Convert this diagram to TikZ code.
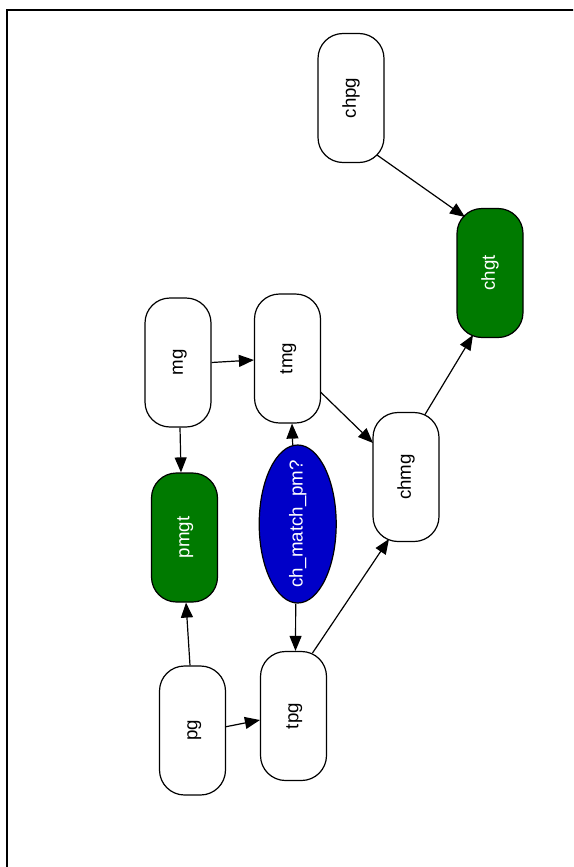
\documentclass[tikz,border=0pt]{standalone}
\usepackage{fontspec}
\setmainfont{Liberation Sans}
\usetikzlibrary{arrows.meta,calc,shapes.geometric}
\definecolor{gvgreen}{RGB}{0,122,0}
\definecolor{gvblue}{RGB}{0,0,200}
\newcommand{\vtxt}[1]{\rotatebox{90}{\vphantom{hg}#1}}
\begin{document}
\begin{tikzpicture}[x=1pt,y=-1pt,
  lbl/.style={font=\fontsize{18.7}{22}\selectfont},
  box/.style={lbl, draw, rounded corners=25pt, minimum width=66pt, minimum height=129pt,
              line width=1.2pt, fill=white, inner sep=0pt},
  gbox/.style={box, fill=gvgreen, text=white},
  decision/.style={lbl, ellipse, draw, fill=gvblue, text=white, minimum width=77pt,
              minimum height=158pt, inner sep=0pt, line width=1.2pt},
  edge/.style={line width=1.2pt, -{Triangle[length=15pt,width=12pt]}},
  frame/.style={line width=2pt}
]
\useasboundingbox (0,0) rectangle (573,867);
\clip (0,0) rectangle (573,867);
\draw[frame] (6.5,900) -- (6.5,10) -- (600,10);

\node[box]  (chpg) at (351,98)    {\vtxt{chpg}};
\node[gbox] (chgt) at (490,273)   {\vtxt{chgt}};
\node[box]  (mg)   at (178,362.5) {\vtxt{mg}};
\node[box]  (tmg)  at (287.5,358.5) {\vtxt{tmg}};
\node[gbox] (pmgt) at (184.5,537.5) {\vtxt{pmgt}};
\node[decision] (cm) at (297.7,524) {\rotatebox{90}{\makebox[0pt]{\vphantom{hg}ch\_match\_pm?}}};
\node[box]  (pg)   at (192.5,730.5) {\vtxt{pg}};
\node[box]  (tpg)  at (293.5,716) {\vtxt{tpg}};
\node[box]  (chmg) at (406,477)   {\vtxt{chmg}};

\draw[edge] ($(chpg.center)+(26,57)$) -- ($(chgt.center)+(-25,-56)$);
\draw[edge] ($(chmg.center)+(19,-62.5)$) -- ($(chgt.center)+(-17,62)$);
\draw[edge] (mg.east) -- ($(tmg.west)+(0,1.5)$);
\draw[edge] ($(mg.south)+(2,0)$) -- ($(pmgt.north)+(-3.5,0)$);
\draw[edge] ($(tmg.center)+(33,33.5)$) -- ($(chmg.center)+(-33,-34)$);
\draw[edge] ($(cm.north)+(-5,0.7)$) -- ($(tmg.south)+(4.5,0)$);
\draw[edge] ($(cm.south)+(-2,0)$) -- ($(tpg.north)+(2,0)$);
\draw[edge] ($(pg.north)+(-2.5,0)$) -- ($(pmgt.south)+(1.5,0)$);
\draw[edge] ($(pg.east)+(0,-3.8)$) -- ($(tpg.west)+(0,4)$);
\draw[edge] ($(tpg.center)+(19,-63)$) -- ($(chmg.center)+(-17,62)$);
\end{tikzpicture}
\end{document}
